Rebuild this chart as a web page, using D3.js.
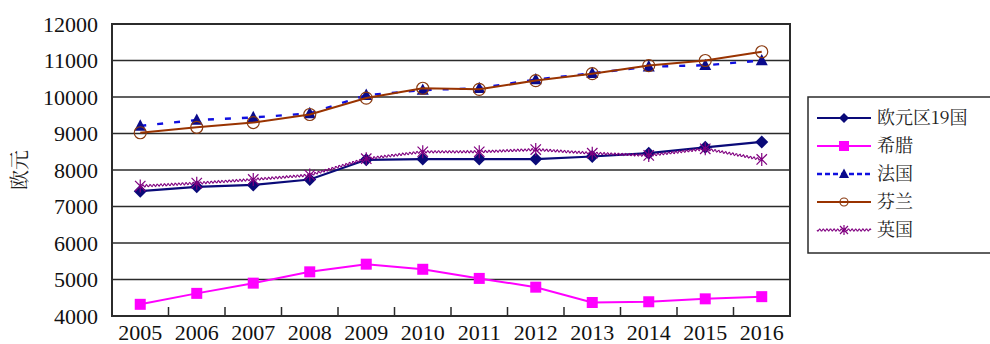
<!DOCTYPE html>
<html>
<head>
<meta charset="utf-8">
<script src="https://cdn.jsdelivr.net/npm/d3@7"></script>
<style>
  html, body { margin: 0; padding: 0; background: #fff; }
  svg { display: block; }
</style>
</head>
<body>
<svg id="chart" width="990" height="344"></svg>
<script>
// Average wages by year (euro)
const years = ["2005","2006","2007","2008","2009","2010","2011","2012","2013","2014","2015","2016"];
const euroArea = [7420, 7540, 7590, 7740, 8280, 8300, 8300, 8300, 8370, 8460, 8620, 8770];
const greece   = [4320, 4620, 4900, 5210, 5420, 5280, 5030, 4790, 4370, 4390, 4470, 4530];
const france   = [9210, 9370, 9440, 9550, 10050, 10190, 10240, 10480, 10650, 10830, 10870, 11000];
const finland  = [9020, 9170, 9300, 9520, 9970, 10240, 10210, 10450, 10640, 10860, 11000, 11240];
const uk       = [7560, 7640, 7740, 7860, 8310, 8500, 8500, 8560, 8460, 8400, 8580, 8290];
const seriesNames = ["欧元区19国", "希腊", "法国", "芬兰", "英国"];
const yTicks = [4000, 5000, 6000, 7000, 8000, 9000, 10000, 11000, 12000];
const yTitle = "欧元";

const svg = d3.select("#chart");
const L = 112, R = 790, T = 24, B = 316;

const x = d3.scaleBand().domain(years).range([L, R]);
const y = d3.scaleLinear().domain([4000, 12000]).range([B, T]);
const cx = d => x(d) + x.bandwidth() / 2;

const numFont = "Liberation Serif";
const cjkFont = "Noto Serif CJK SC";

// horizontal gridlines
svg.append("g").selectAll("line").data(yTicks).join("line")
  .attr("x1", L).attr("x2", R)
  .attr("y1", d => y(d)).attr("y2", d => y(d))
  .attr("stroke", "#2b2b2b").attr("stroke-width", 1.5);

// y axis labels
const yAxis = svg.append("g").attr("transform", `translate(${L},0)`)
  .call(d3.axisLeft(y).tickValues(yTicks).tickSize(0).tickPadding(14).tickFormat(d3.format("d")));
yAxis.select(".domain").remove();
yAxis.attr("font-family", numFont).attr("font-size", 22);
yAxis.selectAll("text").attr("font-family", numFont).attr("font-size", 22).attr("fill", "#111");

// x axis with ticks pointing inward between categories
const xAxis = svg.append("g").attr("transform", `translate(0,${B})`)
  .call(d3.axisBottom(x).tickSize(0).tickPadding(8));
xAxis.select(".domain").remove();
xAxis.attr("font-family", numFont).attr("font-size", 22);
xAxis.selectAll("text").attr("font-family", numFont).attr("font-size", 22).attr("fill", "#111");
svg.append("g").selectAll("line").data(years.slice(1)).join("line")
  .attr("x1", d => x(d)).attr("x2", d => x(d))
  .attr("y1", B).attr("y2", B - 9)
  .attr("stroke", "#2b2b2b").attr("stroke-width", 1.5);

// plot frame
svg.append("rect").attr("x", L).attr("y", T).attr("width", R - L).attr("height", B - T)
  .attr("fill", "none").attr("stroke", "#2b2b2b").attr("stroke-width", 2);

// y title
svg.append("text")
  .attr("transform", `translate(27,170) rotate(-90)`)
  .attr("text-anchor", "middle")
  .attr("font-family", cjkFont).attr("font-size", 20).attr("fill", "#222")
  .text(yTitle);

const line = d3.line().x((d, i) => cx(years[i])).y(d => y(d));

// wavy path following a polyline
function wavyPath(pts, amp, wl) {
  let out = [];
  let dist = 0;
  for (let k = 0; k < pts.length - 1; k++) {
    const [x0, y0] = pts[k], [x1, y1] = pts[k + 1];
    const len = Math.hypot(x1 - x0, y1 - y0);
    const nx = -(y1 - y0) / len, ny = (x1 - x0) / len;
    const n = Math.ceil(len / 0.7);
    for (let s = (k === 0 ? 0 : 1); s <= n; s++) {
      const t = s / n;
      const off = amp * Math.sin(2 * Math.PI * (dist + t * len) / wl);
      out.push([x0 + (x1 - x0) * t + nx * off, y0 + (y1 - y0) * t + ny * off]);
    }
    dist += len;
  }
  return "M" + out.map(p => p[0].toFixed(2) + "," + p[1].toFixed(2)).join("L");
}

// marker drawers
const markers = {
  diamond: (g, px, py, c, s) => g.append("path")
    .attr("d", `M${px},${py - s}L${px + s},${py}L${px},${py + s}L${px - s},${py}Z`).attr("fill", c),
  square: (g, px, py, c, s) => g.append("rect")
    .attr("x", px - s).attr("y", py - s).attr("width", 2 * s).attr("height", 2 * s).attr("fill", c),
  triangle: (g, px, py, c, s) => g.append("path")
    .attr("d", `M${px},${py - s * 1.1}L${px + s},${py + s * 0.8}L${px - s},${py + s * 0.8}Z`).attr("fill", c),
  circle: (g, px, py, c, s) => g.append("circle")
    .attr("cx", px).attr("cy", py).attr("r", s).attr("fill", "none").attr("stroke", c).attr("stroke-width", 1.2),
  star: (g, px, py, c, s) => {
    const d = s * 0.8;
    g.append("path")
      .attr("d", `M${px},${py - s}L${px},${py + s}M${px - d},${py - d}L${px + d},${py + d}M${px - d},${py + d}L${px + d},${py - d}`)
      .attr("stroke", c).attr("stroke-width", 1.2).attr("fill", "none");
  }
};

const series = [
  { name: seriesNames[0], values: euroArea, color: "#0a0a78", width: 2.2, dash: null, wavy: false, marker: "diamond", mcolor: "#0a0a78", ms: 6.5, lms: 5 },
  { name: seriesNames[1], values: greece, color: "#ff00ff", width: 2, dash: null, wavy: false, marker: "square", mcolor: "#ff00ff", ms: 5.5, lms: 5 },
  { name: seriesNames[2], values: france, color: "#1010e0", width: 2.4, dash: "6,11", wavy: false, marker: "triangle", mcolor: "#0a0a8c", ms: 6, lms: 5, ldash: "5,3" },
  { name: seriesNames[3], values: finland, color: "#993300", width: 2, dash: null, wavy: false, marker: "circle", mcolor: "#8a3a10", ms: 6, lms: 4 },
  { name: seriesNames[4], values: uk, color: "#800080", width: 1.1, dash: null, wavy: true, marker: "star", mcolor: "#800080", ms: 6.5, lms: 5 }
];

const plot = svg.append("g");
series.forEach(s => {
  const g = plot.append("g");
  if (s.wavy) {
    const pts = s.values.map((v, i) => [cx(years[i]), y(v)]);
    g.append("path").attr("d", wavyPath(pts, 1.1, 3.6))
      .attr("fill", "none").attr("stroke", s.color).attr("stroke-width", s.width);
  } else {
    g.append("path").datum(s.values).attr("d", line)
      .attr("fill", "none").attr("stroke", s.color).attr("stroke-width", s.width)
      .attr("stroke-dasharray", s.dash);
  }
  s.values.forEach((v, i) => markers[s.marker](g, cx(years[i]), y(v), s.mcolor, s.ms));
});

// legend
const lg = svg.append("g");
lg.append("rect").attr("x", 808).attr("y", 97).attr("width", 200).attr("height", 156)
  .attr("fill", "#fff").attr("stroke", "#2b2b2b").attr("stroke-width", 1.5);
series.forEach((s, i) => {
  const ly = 118 + i * 28;
  const g = lg.append("g");
  if (s.wavy) {
    g.append("path").attr("d", wavyPath([[817, ly], [871, ly]], 1.1, 3.6))
      .attr("fill", "none").attr("stroke", s.color).attr("stroke-width", s.width);
  } else {
    g.append("line").attr("x1", 817).attr("x2", 871).attr("y1", ly).attr("y2", ly)
      .attr("stroke", s.color).attr("stroke-width", s.width)
      .attr("stroke-dasharray", s.ldash || null);
  }
  markers[s.marker](g, 844, ly, s.mcolor, s.lms);
  g.append("text").attr("x", 877).attr("y", ly).attr("dy", "0.36em")
    .attr("font-family", cjkFont).attr("font-size", 18).attr("fill", "#222")
    .text(s.name);
});
</script>
</body>
</html>
